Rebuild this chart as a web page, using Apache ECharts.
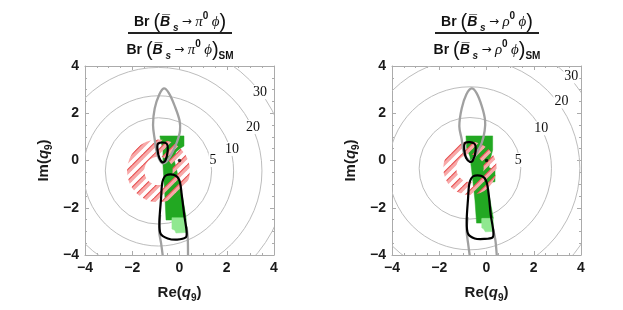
<!DOCTYPE html>
<html><head><meta charset="utf-8">
<script src="https://cdn.jsdelivr.net/npm/echarts@6/dist/echarts.min.js"></script>
<style>html,body{margin:0;padding:0;background:#fff}#c{width:623px;height:310px}</style>
</head><body><div id="c"></div><script>
// ---------- data ----------
const axisMin = -4, axisMax = 4, axisStep = 2;
const contourLabels = ['5', '10', '20', '30'];
// left panel: B_s -> pi0 phi
const leftCenter = [-0.89, -0.44];
const leftRadii = [2.25, 3.18, 4.38, 5.45];
const leftLabelPos = [[1.42, 0.02], [2.22, 0.49], [3.11, 1.42], [3.41, 2.9]];
const leftRing = [0.6, 1.33];
const leftGreen = [[-0.83,1.04],[0.19,1.04],[0.19,0.61],[0.06,0.53],[-0.15,0.36],[-0.22,0.0],[-0.12,-0.4],[0.02,-1.04],[0.15,-1.67],[0.26,-2.3],[0.28,-2.52],[-0.57,-2.52],[-0.61,-1.67],[-0.66,-0.83],[-0.7,-0.19],[-0.7,0.44],[-0.78,0.78]];
const leftLightGreen = [[-0.32,-2.42],[0.28,-2.42],[0.28,-3.05],[-0.15,-3.07],[-0.2,-2.95],[-0.32,-2.9]];
const leftBlackSmall = [[-0.9,0.72],[-0.55,0.72],[-0.5,0.4],[-0.6,0.0],[-0.72,-0.08],[-0.85,0.1],[-0.93,0.45]];
const leftBlackBig = [[-0.55,-0.62],[-0.2,-0.62],[0.0,-0.85],[0.1,-1.5],[0.2,-2.3],[0.3,-3.0],[0.27,-3.25],[-0.1,-3.35],[-0.5,-3.3],[-0.8,-3.1],[-0.85,-2.6],[-0.78,-1.6],[-0.72,-0.9]];
const leftGrayTop = [[-0.66,3.05],[-0.45,2.85],[-0.2,2.3],[0.0,1.7],[0.02,1.25],[-0.1,0.8],[-0.3,0.35],[-0.55,-0.05],[-0.75,-0.1],[-0.95,0.3],[-1.05,0.9],[-1.12,1.5],[-1.05,2.2],[-0.85,2.8]];
const leftGrayBottomA = [[-0.82,-2.3],[-0.86,-3.0],[-0.78,-3.5],[-0.7,-4.1]];
const leftGrayBottomB = [[0.3,-2.8],[0.35,-3.3],[0.36,-4.1]];
// right panel: B_s -> rho0 phi
const rightCenter = [-0.7, -0.33];
const rightRadii = [2.15, 3.45, 4.65, 5.7];
const rightLabelPos = [[1.34, 0.02], [2.32, 1.36], [3.17, 2.5], [3.59, 3.56]];
const rightRing = [0.58, 1.13];
const rightGreen = [[-0.87,1.04],[0.26,1.04],[0.26,0.44],[0.15,0.02],[0.1,-0.3],[0.36,-0.4],[0.36,-0.9],[0.0,-0.95],[0.15,-1.67],[0.29,-2.45],[-0.2,-2.45],[-0.2,-2.65],[-0.42,-2.65],[-0.49,-1.67],[-0.63,-0.4],[-0.7,0.16],[-0.84,0.52]];
const rightLightGreen = [[-0.2,-2.45],[0.29,-2.45],[0.29,-3.0],[-0.05,-3.02],[-0.12,-2.9],[-0.2,-2.85]];
const rightBlackSmall = [[-0.9,0.75],[-0.52,0.72],[-0.46,0.4],[-0.58,0.0],[-0.7,-0.06],[-0.86,0.1],[-0.94,0.45]];
const rightBlackBig = [[-0.55,-0.66],[-0.2,-0.66],[0.0,-0.9],[0.1,-1.5],[0.18,-2.3],[0.29,-3.0],[0.26,-3.25],[-0.1,-3.32],[-0.5,-3.3],[-0.78,-3.1],[-0.84,-2.6],[-0.78,-1.6],[-0.72,-0.95]];
const rightGrayTop = [[-0.63,3.05],[-0.42,2.85],[-0.2,2.3],[-0.06,1.7],[-0.08,1.25],[-0.2,0.75],[-0.42,0.3],[-0.62,-0.02],[-0.75,0.0],[-0.95,0.3],[-1.05,0.9],[-1.15,1.45],[-1.05,2.2],[-0.85,2.8]];
const rightGrayBottomA = [[-0.8,-2.4],[-0.84,-3.0],[-0.78,-3.5],[-0.7,-4.1]];
const rightGrayBottomB = [[0.28,-2.9],[0.38,-3.4],[0.44,-4.1]];
const smPoint = [[0, 0]];

// ---------- drawing ----------
function makeHatch() {
  const n = 11, c = document.createElement('canvas');
  c.width = n; c.height = n;
  const g = c.getContext('2d');
  for (let k = -1; k <= 2; k++) {
    const o = k * n;
    g.fillStyle = '#f8a8a8';
    g.beginPath(); g.moveTo(o, 0); g.lineTo(o + 5.5, 0); g.lineTo(o + 5.5 - n, n); g.lineTo(o - n, n); g.closePath(); g.fill();
    g.strokeStyle = '#e65252'; g.lineWidth = 1.1;
    g.beginPath(); g.moveTo(o + 0.3, 0); g.lineTo(o + 0.3 - n, n); g.stroke();
  }
  return c;
}
const hatch = makeHatch();
const chart = echarts.init(document.getElementById('c'), null, {renderer: 'canvas'});
const frameColor = '#ababab';
const labelFont = {fontFamily: 'Liberation Sans', fontWeight: 'bold', fontSize: 14, color: '#1a1a1a'};
const fmt = v => (v < 0 ? '\u2212' + Math.abs(v) : String(v));

function axisPair(gi, isX) {
  const base = {
    gridIndex: gi, type: 'value', min: axisMin, max: axisMax, interval: axisStep,
    axisLine: {show: true, onZero: false, lineStyle: {color: frameColor, width: 1}},
    axisTick: {show: true, inside: true, length: 4, lineStyle: {color: frameColor}},
    minorTick: {show: true, splitNumber: 4, length: 2, lineStyle: {color: frameColor}},
    splitLine: {show: false}
  };
  const main = Object.assign({}, base, {
    position: isX ? 'bottom' : 'left',
    axisLabel: Object.assign({formatter: fmt, margin: 6}, labelFont),
    name: isX ? '{a|Re(}{q|q}{s|9}{a|)}' : '{a|Im(}{q|q}{s|9}{a|)}',
    nameLocation: 'middle', nameGap: isX ? 28 : 31,
    nameTextStyle: {rich: {
      a: {fontFamily: 'Liberation Sans', fontWeight: 'bold', fontSize: 15, color: '#1a1a1a', lineHeight: 20},
      q: {fontFamily: 'Liberation Sans', fontWeight: 'bold', fontStyle: 'italic', fontSize: 15, color: '#1a1a1a', lineHeight: 20},
      s: {fontFamily: 'Liberation Sans', fontWeight: 'bold', fontSize: 10, color: '#1a1a1a', lineHeight: 12, verticalAlign: 'bottom'}
    }}
  });
  const opp = Object.assign({}, base, {position: isX ? 'top' : 'right', axisLabel: {show: false}});
  return [main, opp];
}

function circleSeries(gi, center, radii) {
  return {type: 'custom', xAxisIndex: gi * 2, yAxisIndex: gi * 2, clip: true, z: 1, silent: true,
    data: radii.map(r => [center[0], center[1], r]),
    renderItem: (p, api) => {
      const c = api.coord([api.value(0), api.value(1)]);
      const r = api.size([api.value(2), 0])[0];
      return {type: 'circle', shape: {cx: c[0], cy: c[1], r: r}, style: {fill: 'none', stroke: '#bdbdbd', lineWidth: 1}};
    }};
}
function ringSeries(gi, center, ring) {
  return {type: 'custom', xAxisIndex: gi * 2, yAxisIndex: gi * 2, clip: true, z: 4, silent: true,
    data: [[center[0], center[1], ring[0], ring[1]]],
    renderItem: (p, api) => {
      const c = api.coord([api.value(0), api.value(1)]);
      const r0 = api.size([api.value(2), 0])[0], r = api.size([api.value(3), 0])[0];
      return {type: 'ring', shape: {cx: c[0], cy: c[1], r: r, r0: r0}, style: {fill: {image: hatch, repeat: 'repeat'}}};
    }};
}
function shapeSeries(gi, pts, kind, style, z, smooth) {
  return {type: 'custom', xAxisIndex: gi * 2, yAxisIndex: gi * 2, clip: true, z: z, silent: true,
    data: pts,
    renderItem: (p, api) => {
      if (p.dataIndex !== 0) return null;
      const px = pts.map(pt => api.coord(pt));
      return {type: kind, shape: {points: px, smooth: smooth || 0}, style: style};
    }};
}
function labelSeries(gi, pos) {
  return {type: 'custom', xAxisIndex: gi * 2, yAxisIndex: gi * 2, clip: true, z: 8, silent: true,
    data: pos,
    renderItem: (p, api) => {
      const c = api.coord([api.value(0), api.value(1)]);
      return {type: 'text', x: c[0], y: c[1], style: {text: contourLabels[p.dataIndex], fill: '#111',
        font: '14px "Liberation Serif"', align: 'center', verticalAlign: 'middle', backgroundColor: '#fff', padding: [0, 1]}};
    }};
}
function panelSeries(gi, d) {
  return [
    circleSeries(gi, d.center, d.radii),
    shapeSeries(gi, d.green, 'polygon', {fill: '#22a822', stroke: '#22a822', lineWidth: 0.5}, 2),
    shapeSeries(gi, d.light, 'polygon', {fill: '#90e890', stroke: '#90e890', lineWidth: 0.5}, 2),
    ringSeries(gi, d.center, d.ring),
    shapeSeries(gi, d.grayTop, 'polygon', {fill: 'none', stroke: '#a0a0a0', lineWidth: 2.3}, 5, 0.35),
    shapeSeries(gi, d.grayA, 'polyline', {fill: 'none', stroke: '#a0a0a0', lineWidth: 2.3}, 5, 0.3),
    shapeSeries(gi, d.grayB, 'polyline', {fill: 'none', stroke: '#a0a0a0', lineWidth: 2.3}, 5, 0.3),
    shapeSeries(gi, d.blackSmall, 'polygon', {fill: 'none', stroke: '#000', lineWidth: 2.2}, 6, 0.35),
    shapeSeries(gi, d.blackBig, 'polygon', {fill: 'none', stroke: '#000', lineWidth: 2.2}, 6, 0.3),
    {type: 'scatter', xAxisIndex: gi * 2, yAxisIndex: gi * 2, data: smPoint, symbolSize: 3.5, itemStyle: {color: '#000'}, z: 7, silent: true},
    labelSeries(gi, d.labels)
  ];
}

const xA = axisPair(0, true).concat(axisPair(1, true));
const yA = axisPair(0, false).concat(axisPair(1, false));

function titleGraphic(cx, meson) {
  const rich = {
    br: {fontFamily: 'Liberation Sans', fontWeight: 'bold', fontSize: 14, fill: '#111', lineHeight: 22},
    p: {fontFamily: 'Liberation Sans', fontSize: 20, fill: '#111', lineHeight: 22},
    b: {fontFamily: 'Liberation Sans', fontWeight: 'bold', fontStyle: 'italic', fontSize: 14, fill: '#111', lineHeight: 22},
    s: {fontFamily: 'Liberation Sans', fontWeight: 'bold', fontStyle: 'italic', fontSize: 10, fill: '#111', lineHeight: 10, verticalAlign: 'bottom'},
    ar: {fontFamily: 'DejaVu Sans', fontSize: 12, fill: '#111', lineHeight: 22},
    g: {fontFamily: 'Liberation Serif', fontStyle: 'italic', fontSize: 15, fill: '#111', lineHeight: 22},
    sup: {fontFamily: 'Liberation Sans', fontWeight: 'bold', fontSize: 10, fill: '#111', lineHeight: 10, verticalAlign: 'top'},
    sm: {fontFamily: 'Liberation Sans', fontWeight: 'bold', fontSize: 10, fill: '#111', lineHeight: 10, verticalAlign: 'bottom'}
  };
  const core = '{br|Br }{p|(}{b|B\u0305}{s| s} {ar|\u2192} {g|' + meson + '}{sup|0} {g|\u03d5}{p|)}';
  return [
    {type: 'text', x: cx, y: 22, style: {text: core, rich: rich, align: 'center', verticalAlign: 'middle'}},
    {type: 'rect', shape: {x: cx - 52, y: 32, width: 104, height: 2}, style: {fill: '#222'}},
    {type: 'text', x: cx, y: 50, style: {text: core + '{sm|SM}', rich: rich, align: 'center', verticalAlign: 'middle'}}
  ];
}

chart.setOption({
  animation: false,
  backgroundColor: '#fff',
  grid: [{left: 85, top: 66, width: 189, height: 189}, {left: 392, top: 66, width: 189, height: 189}],
  xAxis: xA,
  yAxis: yA,
  graphic: titleGraphic(180, '\u03c0').concat(titleGraphic(487, '\u03c1')),
  series: panelSeries(0, {center: leftCenter, radii: leftRadii, labels: leftLabelPos, ring: leftRing, green: leftGreen, light: leftLightGreen,
      blackSmall: leftBlackSmall, blackBig: leftBlackBig, grayTop: leftGrayTop, grayA: leftGrayBottomA, grayB: leftGrayBottomB})
    .concat(panelSeries(1, {center: rightCenter, radii: rightRadii, labels: rightLabelPos, ring: rightRing, green: rightGreen, light: rightLightGreen,
      blackSmall: rightBlackSmall, blackBig: rightBlackBig, grayTop: rightGrayTop, grayA: rightGrayBottomA, grayB: rightGrayBottomB}))
});
</script></body></html>
